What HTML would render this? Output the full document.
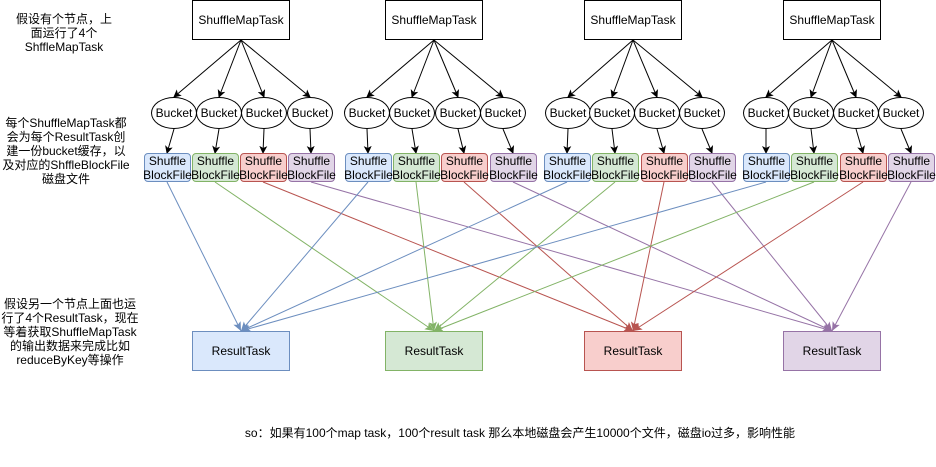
<!DOCTYPE html>
<html><head><meta charset="utf-8"><style>
body{margin:0;width:936px;height:467px;background:#fff;position:relative;overflow:hidden;font-family:"Liberation Sans","Noto Sans CJK SC",sans-serif;font-size:12px;color:#000}
.a{position:absolute;display:flex;align-items:center;justify-content:center;text-align:center;box-sizing:border-box}
.smt{width:98px;height:40px;border:1px solid #000;background:#fff}
.bk{width:46px;height:32px;border:1px solid #000;border-radius:50%;background:#fff}
.f{width:47px;height:29px;border:1px solid;border-radius:4px;line-height:14px}
.rt{width:98px;height:40px;border:1px solid}
.c0{background:#dae8fc;border-color:#6c8ebf}.c1{background:#d5e8d4;border-color:#82b366}
.c2{background:#f8cecc;border-color:#b85450}.c3{background:#e1d5e7;border-color:#9673a6}
.t{position:absolute;text-align:center;font-size:12px;line-height:14px}
svg{position:absolute;left:0;top:0}
</style></head><body>
<svg id="s" width="936" height="467"><defs>
<marker id="m0" markerWidth="8" markerHeight="8" refX="7" refY="4" orient="auto" markerUnits="userSpaceOnUse"><path d="M0,0 L8,4 L0,8 L2,4z" fill="#000"/></marker>
<marker id="b0" markerWidth="10" markerHeight="10" refX="9" refY="5" orient="auto" markerUnits="userSpaceOnUse"><path d="M0,1 L9,5 L0,9 L2,5z" fill="#6c8ebf"/></marker>
<marker id="b1" markerWidth="10" markerHeight="10" refX="9" refY="5" orient="auto" markerUnits="userSpaceOnUse"><path d="M0,1 L9,5 L0,9 L2,5z" fill="#82b366"/></marker>
<marker id="b2" markerWidth="10" markerHeight="10" refX="9" refY="5" orient="auto" markerUnits="userSpaceOnUse"><path d="M0,1 L9,5 L0,9 L2,5z" fill="#b85450"/></marker>
<marker id="b3" markerWidth="10" markerHeight="10" refX="9" refY="5" orient="auto" markerUnits="userSpaceOnUse"><path d="M0,1 L9,5 L0,9 L2,5z" fill="#9673a6"/></marker>
</defs></svg>

<div class="t" style="left:4px;top:12px;width:120px">假设有个节点，上<br>面运行了4个<br>ShffleMapTask</div>
<div class="t" style="left:0px;top:116px;width:132px">每个ShuffleMapTask都<br>会为每个ResultTask创<br>建一份bucket缓存，以<br>及对应的ShffleBlockFile<br>磁盘文件</div>
<div class="t" style="left:0px;top:297px;width:140px">假设另一个节点上面也运<br>行了4个ResultTask，现在<br>等着获取ShuffleMapTask<br>的输出数据来完成比如<br>reduceByKey等操作</div>
<div class="t" style="left:180px;top:426px;width:680px">so：如果有100个map task，100个result task 那么本地磁盘会产生10000个文件，磁盘io过多，影响性能</div>

<div class="a smt" style="left:192px;top:0">ShuffleMapTask</div>
<div class="a smt" style="left:385px;top:0">ShuffleMapTask</div>
<div class="a smt" style="left:584px;top:0">ShuffleMapTask</div>
<div class="a smt" style="left:783px;top:0">ShuffleMapTask</div>

<div class="a bk" style="left:151px;top:97px">Bucket</div><div class="a bk" style="left:196px;top:97px">Bucket</div><div class="a bk" style="left:241px;top:97px">Bucket</div><div class="a bk" style="left:287px;top:97px">Bucket</div>
<div class="a bk" style="left:344px;top:97px">Bucket</div><div class="a bk" style="left:389px;top:97px">Bucket</div><div class="a bk" style="left:435px;top:97px">Bucket</div><div class="a bk" style="left:480px;top:97px">Bucket</div>
<div class="a bk" style="left:545px;top:97px">Bucket</div><div class="a bk" style="left:589px;top:97px">Bucket</div><div class="a bk" style="left:634px;top:97px">Bucket</div><div class="a bk" style="left:679px;top:97px">Bucket</div>
<div class="a bk" style="left:743px;top:97px">Bucket</div><div class="a bk" style="left:788px;top:97px">Bucket</div><div class="a bk" style="left:833px;top:97px">Bucket</div><div class="a bk" style="left:878px;top:97px">Bucket</div>

<div class="a f c0" style="left:144px;top:153px">Shuffle<br>BlockFile</div><div class="a f c1" style="left:192px;top:153px">Shuffle<br>BlockFile</div><div class="a f c2" style="left:240px;top:153px">Shuffle<br>BlockFile</div><div class="a f c3" style="left:288px;top:153px">Shuffle<br>BlockFile</div>
<div class="a f c0" style="left:345px;top:153px">Shuffle<br>BlockFile</div><div class="a f c1" style="left:393px;top:153px">Shuffle<br>BlockFile</div><div class="a f c2" style="left:441px;top:153px">Shuffle<br>BlockFile</div><div class="a f c3" style="left:490px;top:153px">Shuffle<br>BlockFile</div>
<div class="a f c0" style="left:544px;top:153px">Shuffle<br>BlockFile</div><div class="a f c1" style="left:592px;top:153px">Shuffle<br>BlockFile</div><div class="a f c2" style="left:641px;top:153px">Shuffle<br>BlockFile</div><div class="a f c3" style="left:689px;top:153px">Shuffle<br>BlockFile</div>
<div class="a f c0" style="left:743px;top:153px">Shuffle<br>BlockFile</div><div class="a f c1" style="left:791px;top:153px">Shuffle<br>BlockFile</div><div class="a f c2" style="left:840px;top:153px">Shuffle<br>BlockFile</div><div class="a f c3" style="left:888px;top:153px">Shuffle<br>BlockFile</div>

<div class="a rt c0" style="left:192px;top:331px">ResultTask</div>
<div class="a rt c1" style="left:385px;top:331px">ResultTask</div>
<div class="a rt c2" style="left:584px;top:331px">ResultTask</div>
<div class="a rt c3" style="left:783px;top:331px">ResultTask</div>

<script>
var s=document.getElementById('s'),L=[192,385,584,783],col=['#6c8ebf','#82b366','#b85450','#9673a6'];
function ln(x1,y1,x2,y2,c,m){var e=document.createElementNS('http://www.w3.org/2000/svg','line');
e.setAttribute('x1',x1);e.setAttribute('y1',y1);e.setAttribute('x2',x2);e.setAttribute('y2',y2);
e.setAttribute('stroke',c);e.setAttribute('stroke-width','1');e.setAttribute('marker-end','url(#'+m+')');s.appendChild(e);}
var B=[[151,196,241,287],[344,389,435,480],[545,589,634,679],[743,788,833,878]];
var F=[[144,192,240,288],[345,393,441,490],[544,592,641,689],[743,791,840,888]];
for(var g=0;g<4;g++){var cx=L[g]+49;
 for(var i=0;i<4;i++){var bx=B[g][i]+23,fx=F[g][i]+23;
  ln(cx,40,bx,97,'#000','m0');
  ln(bx,129,fx,153,'#000','m0');
  ln(fx,182,L[i]+49,331,col[i],'b'+i);}}
</script>
</body></html>
